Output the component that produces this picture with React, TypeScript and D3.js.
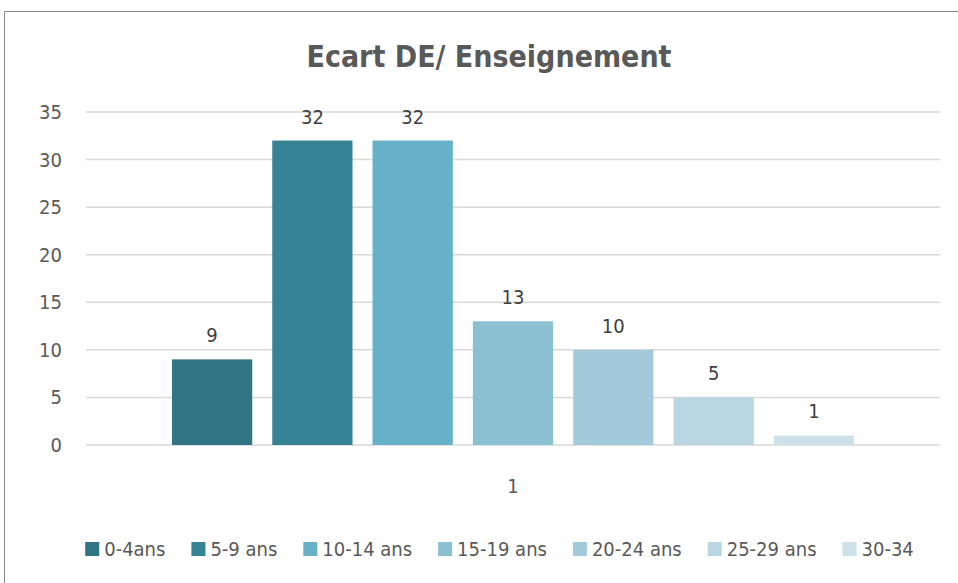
import React, { useEffect, useRef } from 'react'
import * as d3 from 'd3'

const categories = ['1']
const seriesNames = ['0-4ans', '5-9 ans', '10-14 ans', '15-19 ans', '20-24 ans', '25-29 ans', '30-34']
const seriesValues = [9, 32, 32, 13, 10, 5, 1]
const seriesColors = ['#317483', '#378396', '#66b0c8', '#8ac0d2', '#a3cadb', '#b9d6e2', '#cde1e9']
const yTicks = [0, 5, 10, 15, 20, 25, 30, 35]

const W = 958
const H = 583
const FONT = '"DejaVu Sans Condensed", "Liberation Sans Narrow", sans-serif'

export default function App() {
    const ref = useRef<SVGSVGElement>(null)

    useEffect(() => {
        const svg = d3.select(ref.current)
        svg.selectAll('*').remove()

        const margin = { left: 86, right: 940, top: 112, bottom: 445 }

        const x0 = d3.scaleBand().domain(categories).range([margin.left, margin.right]).paddingInner(0).paddingOuter(0.126)
        const x1 = d3.scaleBand().domain(seriesNames).range([0, x0.bandwidth()]).paddingInner(0.2)
        const y = d3.scaleLinear().domain([0, 35]).range([margin.bottom, margin.top])

        // chart frame (only left and top edges fall inside the picture)
        svg.append('path')
            .attr('d', `M4.5,${H} V11.5 H${W}`)
            .attr('fill', 'none')
            .attr('stroke', '#8a8a8a')
            .attr('stroke-width', 1)

        svg.append('text')
            .attr('x', 489).attr('y', 67)
            .attr('text-anchor', 'middle')
            .attr('font-family', FONT)
            .attr('font-weight', 'bold')
            .attr('font-size', 30)
            .attr('fill', '#595959')
            .text('Ecart DE/ Enseignement')

        // gridlines
        svg.append('g')
            .selectAll('line')
            .data(yTicks)
            .join('line')
            .attr('x1', margin.left).attr('x2', margin.right)
            .attr('y1', (d) => y(d)).attr('y2', (d) => y(d))
            .attr('stroke', '#d9d9d9')
            .attr('stroke-width', 1.5)

        // y axis labels
        svg.append('g')
            .selectAll('text')
            .data(yTicks)
            .join('text')
            .attr('x', 62)
            .attr('y', (d) => y(d) + 7)
            .attr('text-anchor', 'end')
            .attr('font-family', FONT)
            .attr('font-size', 20)
            .attr('fill', '#595959')
            .text((d) => d)

        const rows = seriesNames.map((name, i) => ({ name, value: seriesValues[i], color: seriesColors[i] }))

        categories.forEach((cat) => {
            const g = svg.append('g').attr('transform', `translate(${x0(cat)},0)`)

            g.selectAll('rect')
                .data(rows)
                .join('rect')
                .attr('x', (d) => x1(d.name)!)
                .attr('width', x1.bandwidth())
                .attr('y', (d) => y(d.value))
                .attr('height', (d) => y(0) - y(d.value))
                .attr('fill', (d) => d.color)

            g.selectAll('text')
                .data(rows)
                .join('text')
                .attr('x', (d) => x1(d.name)! + x1.bandwidth() / 2)
                .attr('y', (d) => y(d.value) - 17)
                .attr('text-anchor', 'middle')
                .attr('font-family', FONT)
                .attr('font-size', 20)
                .attr('fill', '#404040')
                .text((d) => d.value)

            svg.append('text')
                .attr('x', x0(cat)! + x0.bandwidth() / 2)
                .attr('y', 493)
                .attr('text-anchor', 'middle')
                .attr('font-family', FONT)
                .attr('font-size', 20)
                .attr('fill', '#595959')
                .text(cat)
        })

        // legend, measured then centred
        const legend = svg.append('g')
        const gap = 26
        let cursor = 0
        rows.forEach((d) => {
            const item = legend.append('g').attr('transform', `translate(${cursor},0)`)
            item.append('rect')
                .attr('x', 0).attr('y', 542)
                .attr('width', 14).attr('height', 14)
                .attr('fill', d.color)
            const t = item.append('text')
                .attr('x', 19).attr('y', 556)
                .attr('font-family', FONT)
                .attr('font-size', 20)
                .attr('fill', '#595959')
                .text(d.name)
            const w = (t.node() as SVGTextElement).getComputedTextLength()
            cursor += 19 + w + gap
        })
        const total = cursor - gap
        legend.attr('transform', `translate(${499.5 - total / 2},0)`)
    }, [])

    return <svg ref={ref} width={W} height={H} style={{ position: 'absolute', left: 0, top: 0, display: 'block' }} />
}
